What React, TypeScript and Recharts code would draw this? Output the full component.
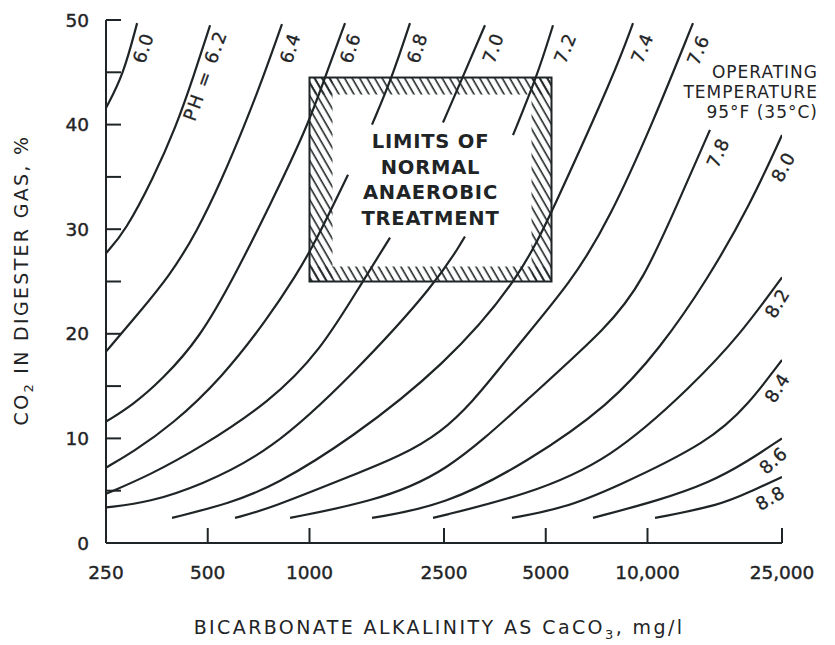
import React from 'react';
import { LineChart, Line, XAxis, YAxis, ReferenceArea, LabelList } from 'recharts';

const INK = '#1f2426';
const FONT = '"DejaVu Sans", Verdana, sans-serif';

// [bicarbonate alkalinity mg/l, CO2 %], null = gap in the line
const ph60 = [[250, 41.6], [281, 44.7], [309, 49.7]];
const ph62 = [[250, 27.7], [285, 29.8], [344, 34.8], [403, 39.8], [455, 44.7], [508, 49.5]];
const ph64 = [[250, 18.3], [309, 21.8], [387, 25.6], [465, 29.8], [551, 34.8], [640, 39.8], [733, 44.7], [829, 49.6]];
const ph66 = [[250, 11.6], [300, 13.2], [366, 15.6], [474, 19.6], [602, 25.6], [764, 32.3], [983, 39.7], [1111, 44.5], [1274, 49.7]];
const ph68 = [[250, 7.2], [300, 8.7], [392, 11.3], [551, 15.8], [754, 21.5], [912, 25.6], [1031, 28.5], [1300, 35.2], [1420, null], [1531, 40.0], [1754, 44.5], [1983, 49.7]];
const ph70 = [[250, 4.7], [337, 6.5], [474, 9.1], [764, 13.5], [1074, 18.3], [1430, 24.9], [1731, 29.2], [2100, null], [2483, 40.2], [2845, 44.6], [3305, 49.5]];
const ph72 = [[250, 3.4], [337, 3.9], [474, 5.5], [764, 8.7], [1345, 16.1], [2384, 24.9], [2884, 29.3], [3400, null], [4000, 39.0], [4711, 44.6], [5254, 49.5]];
const ph74 = [[392, 2.4], [582, 3.8], [791, 5.5], [1318, 9.9], [2517, 17.0], [4196, 25.3], [5325, 32.3], [8015, 45.0], [9060, 49.7]];
const ph76 = [[602, 2.4], [764, 3.3], [1345, 6.5], [2517, 10.0], [3840, 17.7], [6020, 25.1], [7745, 31.1], [10380, 40.2], [13632, 49.7]];
const ph78 = [[876, 2.4], [1510, 3.9], [2517, 6.5], [4400, 13.7], [7745, 20.8], [9700, 25.1], [12230, 32.3], [15304, 39.5]];
const ph80 = [[1531, 2.4], [2517, 3.6], [4400, 7.7], [7745, 13.2], [10887, 18.6], [14995, 25.1], [20096, 32.3], [25000, 39.0]];
const ph82 = [[2320, 2.4], [4400, 4.6], [7745, 7.9], [13632, 15.1], [18773, 19.9], [25000, 25.4]];
const ph84 = [[3972, 2.4], [5623, 3.3], [8015, 5.3], [15304, 9.7], [19830, 13.2], [25000, 17.5]];
const ph86 = [[6898, 2.4], [10887, 4.1], [15304, 5.8], [19562, 7.7], [25000, 10.0]];
const ph88 = [[10525, 2.4], [16383, 3.6], [20096, 4.9], [25000, 6.3]];

const curveData = [ph60, ph62, ph64, ph66, ph68, ph70, ph72, ph74, ph76, ph78, ph80, ph82, ph84, ph86, ph88];
const phLabels = ['6.0', 'PH = 6.2', '6.4', '6.6', '6.8', '7.0', '7.2', '7.4', '7.6', '7.8', '8.0', '8.2', '8.4', '8.6', '8.8'];

const xTicks = [250, 500, 1000, 2500, 5000, 10000, 25000];
const xTickLabels = ['250', '500', '1000', '2500', '5000', '10,000', '25,000'];
const yTicks = [0, 5, 10, 15, 20, 25, 30, 35, 40, 45, 50];

// limits of normal anaerobic treatment
const boxAlk = [1000, 5200];
const boxCo2 = [25, 44.5];
const boxText = ['LIMITS OF', 'NORMAL', 'ANAEROBIC', 'TREATMENT'];
const noteText = ['OPERATING', 'TEMPERATURE', '95°F (35°C)'];

// where each pH label sits relative to the end of its curve (px, degrees)
const labelPos = [
  { dx: 6, dy: 25, rot: -72 },
  { dx: -5, dy: 50, rot: -70 },
  { dx: 8, dy: 24, rot: -72 },
  { dx: 5, dy: 25, rot: -72 },
  { dx: 7, dy: 25, rot: -72 },
  { dx: 8, dy: 23, rot: -70 },
  { dx: 12, dy: 23, rot: -68 },
  { dx: 9, dy: 25, rot: -68 },
  { dx: 5, dy: 27, rot: -68 },
  { dx: 8, dy: 23, rot: -66 },
  { dx: 1, dy: 32, rot: -62 },
  { dx: -5, dy: 26, rot: -60 },
  { dx: -5, dy: 28, rot: -58 },
  { dx: -9, dy: 22, rot: -42 },
  { dx: -12, dy: 21, rot: -30 },
];

const XTick = (props: any) => {
  const { x, y, payload } = props;
  const v = payload.value;
  return (
    <g>
      {v !== 250 && <line x1={x} y1={y} x2={x} y2={y - 15} stroke={INK} strokeWidth={2} />}
      <text x={x} y={y + 36} textAnchor="middle" fontSize={18.5} fontFamily={FONT} fill={INK}
        stroke={INK} strokeWidth={0.4}>
        {xTickLabels[xTicks.indexOf(v)]}
      </text>
    </g>
  );
};

const YTick = (props: any) => {
  const { x, y, payload } = props;
  const v = payload.value;
  return (
    <g>
      {v > 0 && <line x1={x} y1={y} x2={x + 15} y2={y} stroke={INK} strokeWidth={2} />}
      {v % 10 === 0 && (
        <text x={x - 17} y={y} dy="0.36em" textAnchor="end" fontSize={18.5} fontFamily={FONT} fill={INK}
          stroke={INK} strokeWidth={0.4}>
          {v}
        </text>
      )}
    </g>
  );
};

const HatchBox = (props: any) => {
  const { x, y, width: w, height: h } = props;
  const cx = x + w / 2;
  const cy = y + h / 2;
  return (
    <g>
      <rect x={x} y={y} width={w} height={17} fill="url(#hatch)" />
      <rect x={x} y={y + h - 15} width={w} height={15} fill="url(#hatch)" />
      <rect x={x} y={y} width={23} height={h} fill="url(#hatch)" />
      <rect x={x + w - 20} y={y} width={20} height={h} fill="url(#hatch)" />
      <rect x={x} y={y} width={w} height={h} fill="none" stroke={INK} strokeWidth={2} />
      {boxText.map((t, i) => (
        <text key={t} x={cx} y={cy + (i - 1.5) * 25.7} dy="0.36em" textAnchor="middle" fontSize={19.5}
          fontWeight="bold" letterSpacing={0.8} fontFamily={FONT} fill={INK}>
          {t}
        </text>
      ))}
    </g>
  );
};

const makeLabel = (i: number) => (props: any) => {
  const { index } = props;
  if (index !== curveData[i].length - 1) return null;
  const px = props.x ?? props.viewBox?.x;
  const py = props.y ?? props.viewBox?.y;
  const { dx, dy, rot } = labelPos[i];
  const cx = px + dx;
  const cy = py + dy;
  return (
    <text key={'lbl' + i} x={cx} y={cy} dy="0.36em" transform={`rotate(${rot} ${cx} ${cy})`} textAnchor="middle"
      fontSize={18} letterSpacing={i === 1 ? 2 : 0.5} fontFamily={FONT} fill={INK} stroke={INK} strokeWidth={0.3}>
      {phLabels[i]}
    </text>
  );
};

export default function App() {
  return (
    <div style={{ background: '#fff', width: 827, height: 637 }}>
      <LineChart width={827} height={637} margin={{ top: 12, right: 53, left: 38, bottom: 52 }}>
        <defs>
          <pattern id="hatch" width="6.5" height="10" patternUnits="userSpaceOnUse" patternTransform="rotate(-30)">
            <line x1="3" y1="0" x2="3" y2="10" stroke={INK} strokeWidth="1.6" />
          </pattern>
        </defs>
        <XAxis
          dataKey="x"
          type="number"
          scale="log"
          domain={[250, 25000]}
          ticks={xTicks}
          interval={0}
          tickSize={0}
          tickMargin={0}
          height={50}
          tick={<XTick />}
          axisLine={{ stroke: INK, strokeWidth: 2 }}
          allowDataOverflow
        />
        <YAxis
          type="number"
          domain={[0, 50]}
          ticks={yTicks}
          interval={0}
          tickSize={0}
          tickMargin={0}
          width={60}
          tick={<YTick />}
          axisLine={{ stroke: INK, strokeWidth: 2 }}
          allowDataOverflow
        />
        <ReferenceArea
          x1={boxAlk[0]}
          x2={boxAlk[1]}
          y1={boxCo2[0]}
          y2={boxCo2[1]}
          shape={(p: any) => <HatchBox {...p} />}
        />
        {curveData.map((pts, i) => (
          <Line
            key={phLabels[i]}
            data={pts.map(([x, y]) => ({ x, y }))}
            dataKey="y"
            type="basis"
            stroke={INK}
            strokeWidth={2.2}
            dot={false}
            activeDot={false}
            connectNulls={false}
            isAnimationActive={false}
          >
            <LabelList dataKey="y" content={makeLabel(i)} />
          </Line>
        ))}
        <g fontFamily={FONT} fill={INK}>
          {noteText.map((t, i) => (
            <text key={t} x={810} y={70 + i * 20} textAnchor="end" fontSize={17} letterSpacing={1}>
              {t}
            </text>
          ))}
          <text x={13} y={272} transform="rotate(-90 13 272)" textAnchor="middle" dy="0.36em" fontSize={19}
            letterSpacing={2.3}>
            CO<tspan dy={5} fontSize={13}>2</tspan>
            <tspan dy={-5}> IN DIGESTER GAS, %</tspan>
          </text>
          <text x={431} y={626} textAnchor="middle" fontSize={19} letterSpacing={2.4}>
            BICARBONATE ALKALINITY AS CaCO<tspan dy={5} fontSize={13}>3</tspan>
            <tspan dy={-5}>, mg/l</tspan>
          </text>
        </g>
      </LineChart>
    </div>
  );
}
